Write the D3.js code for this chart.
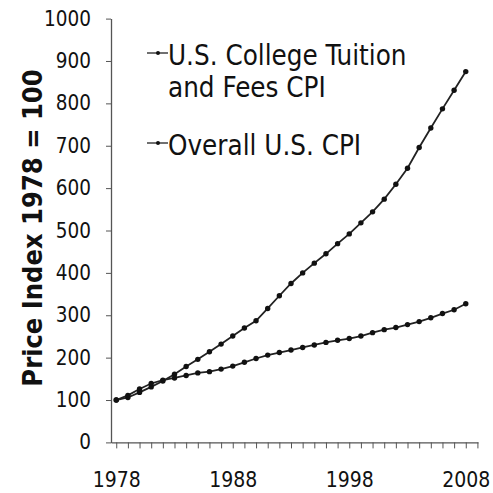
<!DOCTYPE html>
<html>
<head>
<meta charset="utf-8">
<script src="https://cdn.jsdelivr.net/npm/d3@7"></script>
<style>
  body { margin: 0; background: #fff; }
  svg { display: block; }
  text { font-family: 'DejaVu Sans Condensed', 'DejaVu Sans', sans-serif; fill: #111; }
</style>
</head>
<body>
<svg width="493" height="493"></svg>
<script>
// data, index 1978 = 100
const years = d3.range(1978, 2009)
const tuition = [100, 106, 118, 131, 145, 161, 179, 196, 214, 232, 251, 270, 287, 316, 346,
  375, 400, 423, 445, 469, 492, 518, 544, 574, 609, 647, 696, 742, 787, 831, 875]
const overall = [100, 111, 126, 139, 147, 152, 158, 164, 167, 173, 180, 189, 198, 206, 212,
  218, 224, 230, 236, 241, 245, 251, 259, 266, 271, 278, 285, 294, 304, 313, 327]
const yTicks = d3.range(0, 1001, 100)
const xLabels = [1978, 1988, 1998, 2008]
const seriesNames = ['U.S. College Tuition|and Fees CPI', 'Overall U.S. CPI']

const svg = d3.select('svg')

const x = d3.scaleLinear().domain([1977.55, 2009.05]).range([111, 478])
const y = d3.scaleLinear().domain([0, 1000]).range([442.4, 18.6])

// y axis
const yAxis = svg.append('g')
  .attr('transform', 'translate(111,0)')
  .call(d3.axisLeft(y).tickValues(yTicks).tickSize(5).tickSizeOuter(0).tickPadding(15)
    .tickFormat(d3.format('d')))
yAxis.select('.domain').attr('stroke', '#555').attr('stroke-width', 1.3)
yAxis.selectAll('.tick line').attr('stroke', '#555')
yAxis.selectAll('.tick text').attr('font-size', 20.5).attr('fill', '#111')
  .style('font-family', "'DejaVu Sans Condensed', 'DejaVu Sans', sans-serif")

// x axis, a tick every year, labels every ten
const xAxis = svg.append('g')
  .attr('transform', 'translate(0,' + y(0) + ')')
  .call(d3.axisBottom(x).tickValues(d3.range(1978, 2010)).tickSize(6).tickSizeOuter(0)
    .tickPadding(24)
    .tickFormat(d => xLabels.includes(d) ? d : ''))
xAxis.select('.domain').attr('stroke', '#555').attr('stroke-width', 1.3)
xAxis.selectAll('.tick line').attr('stroke', '#555')
xAxis.selectAll('.tick text').attr('font-size', 21).attr('fill', '#111')
  .style('font-family', "'DejaVu Sans Condensed', 'DejaVu Sans', sans-serif")

// y label
svg.append('text')
  .attr('transform', 'translate(42,' + 228 + ') rotate(-90)')
  .attr('text-anchor', 'middle')
  .attr('font-size', 27)
  .attr('font-weight', 'bold')
  .text('Price Index 1978 = 100')

const line = d3.line()
  .x((d, i) => x(years[i]))
  .y(d => y(d))

;[tuition, overall].forEach(vals => {
  svg.append('path')
    .datum(vals)
    .attr('fill', 'none')
    .attr('stroke', '#222')
    .attr('stroke-width', 1.8)
    .attr('d', line)
  svg.append('g').selectAll('circle')
    .data(vals)
    .enter().append('circle')
      .attr('cx', (d, i) => x(years[i]))
      .attr('cy', d => y(d))
      .attr('r', 2.7)
      .attr('fill', '#111')
})

// legend
const legend = svg.append('g')
const legendRows = [53, 143]
seriesNames.forEach((name, i) => {
  const g = legend.append('g').attr('transform', 'translate(147,' + legendRows[i] + ')')
  g.append('line').attr('x1', 0).attr('x2', 21).attr('stroke', '#333').attr('stroke-width', 1.4)
  g.append('circle').attr('cx', 11).attr('r', 2).attr('fill', '#111')
  const t = g.append('text').attr('x', 21).attr('font-size', 27.5)
  name.split('|').forEach((part, j) => {
    t.append('tspan').attr('x', 21).attr('y', 12 + j * 32).text(part)
  })
})
</script>
</body>
</html>
